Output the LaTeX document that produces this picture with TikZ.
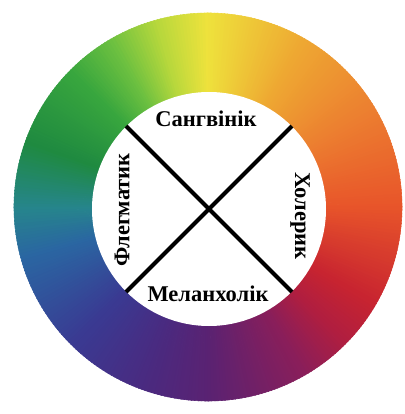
\documentclass[tikz,border=0pt]{standalone}
\usepackage{fontspec}
\setmainfont{Liberation Serif}
\usepackage{tikz}
\usetikzlibrary{positioning, calc}
\definecolor{hueA}{HTML}{E8552A}
\definecolor{hueB}{HTML}{EC7E30}
\definecolor{hueC}{HTML}{EEA832}
\definecolor{hueD}{HTML}{EEE23C}
\definecolor{hueE}{HTML}{B8D83C}
\definecolor{hueF}{HTML}{6CC040}
\definecolor{hueG}{HTML}{38A63E}
\definecolor{hueH}{HTML}{1F8A40}
\definecolor{hueI}{HTML}{26858C}
\definecolor{hueJ}{HTML}{2A66A2}
\definecolor{hueK}{HTML}{3A3A92}
\definecolor{hueL}{HTML}{4A2A80}
\definecolor{hueM}{HTML}{5A2272}
\definecolor{hueN}{HTML}{8A1E5A}
\definecolor{hueO}{HTML}{B01E40}
\definecolor{hueP}{HTML}{C82430}
\tikzset{
    temper/.style={font=\fontsize{16}{18}\selectfont\bfseries, inner sep=0pt},
    cross/.style={line width=2.8pt},
}

\begin{document}
\begin{tikzpicture}[x=0.025cm, y=0.025cm]
    \useasboundingbox (-208, -207) rectangle (197, 207);
    % Ring
    \foreach \a/\b/\ca/\cb in {0/30/hueA/hueB, 30/60/hueB/hueC, 60/90/hueC/hueD,
        90/105/hueD/hueE, 105/120/hueE/hueF, 120/135/hueF/hueG, 135/160/hueG/hueH,
        160/180/hueH/hueI, 180/195/hueI/hueJ, 195/225/hueJ/hueK, 225/250/hueK/hueL,
        250/270/hueL/hueM, 270/300/hueM/hueN, 300/315/hueN/hueO, 315/330/hueO/hueP,
        330/360/hueP/hueA} {
        \pgfmathtruncatemacro{\n}{\b-\a-1}
        \foreach \i in {0,...,\n} {
            \pgfmathsetmacro{\t}{\a+\i}
            \pgfmathtruncatemacro{\p}{100-100*\i/(\b-\a)}
            \fill[\ca!\p!\cb, draw=\ca!\p!\cb, line width=0.4pt]
                (\t:194) arc (\t:\t+1.2:194) -- (\t+1.2:110) arc (\t+1.2:\t:110) -- cycle;
        }
    }
    % Centre
    \node[circle, fill=white, minimum size=234*0.025cm, inner sep=0pt] (inner) at (1, -2) {};
    \draw[cross] (inner.north west) -- (inner.south east);
    \draw[cross] (inner.north east) -- (inner.south west);
    % Temperaments
    \node[temper] (sang) at (-2, 88) {Сангвінік};
    \node[temper] (melan) at (0, -87) {Меланхолік};
    \node[temper, rotate=90] (fleg) at (-86, -3) {Флегматик};
    \node[temper, rotate=-90] (chol) at (92, -9) {Холерик};
\end{tikzpicture}
\end{document}
